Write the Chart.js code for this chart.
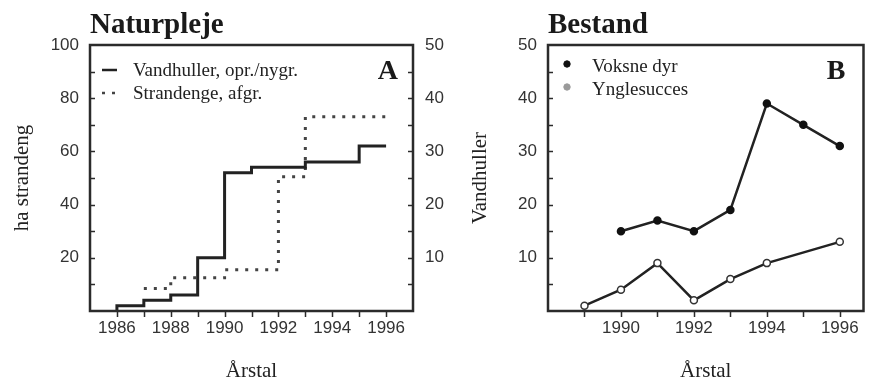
<!DOCTYPE html>
<html>
<head>
<meta charset="utf-8">
<script src="https://cdn.jsdelivr.net/npm/chart.js@4.4.1/dist/chart.umd.min.js"></script>
<style>
  html, body { margin: 0; padding: 0; background: #fff; overflow: hidden; }
  #wrap { position: relative; width: 870px; height: 384px; }
  canvas { position: absolute; top: 0; }
  #chartA { left: 0; }
  #chartB { left: 500px; }
</style>
</head>
<body>
<div id="wrap">
  <canvas id="chartA" width="500" height="384"></canvas>
  <canvas id="chartB" width="370" height="384"></canvas>
</div>
<script>
// Naturpleje: ponds dug/restored (count, right axis) and salt meadows grazed (ha, left axis)
const pondYears = [1986, 1986, 1987, 1988, 1989, 1990, 1991, 1993, 1995, 1996];
const pondCount = [0, 1, 2, 3, 10, 26, 27, 28, 31, 31];
const meadowYears = [1987, 1988, 1990, 1992, 1993, 1996];
const meadowHa = [8.5, 12.5, 15.5, 50.5, 73, 73];

// Bestand: adults and breeding success
const adultYears = [1990, 1991, 1992, 1993, 1994, 1995, 1996];
const adultCount = [15, 17, 15, 19, 39, 35, 31];
const breedYears = [1989, 1990, 1991, 1992, 1993, 1994, 1996];
const breedCount = [1, 4, 9, 2, 6, 9, 13];

// tick labels
const yearLabelsA = [1986, 1988, 1990, 1992, 1994, 1996];
const yearLabelsB = [1990, 1992, 1994, 1996];
const haLabels = [20, 40, 60, 80, 100];
const countLabels = [10, 20, 30, 40, 50];

const INK = '#2b2b2b';
const SERIF = '"Liberation Serif", "DejaVu Serif", serif';
const SANS = '"Liberation Sans", Arial, sans-serif';

Chart.defaults.font.family = SANS;
Chart.defaults.color = '#333';

function toPoints(xs, ys) {
  return xs.map((x, i) => ({ x: x, y: ys[i] }));
}

function onlyLabels(list) {
  return v => (list.includes(v) ? String(v) : '');
}

// frame, inward/outward tick marks, panel title, letter and legend
const panelPlugin = {
  id: 'panel',
  afterDraw(chart, args, opts) {
    const { ctx, chartArea: a } = chart;
    ctx.save();

    ctx.strokeStyle = INK;
    ctx.lineWidth = 1.5;
    Object.values(chart.scales).forEach(s => {
      s.ticks.forEach(t => {
        if (t.value <= s.min || t.value >= s.max) return;
        const p = Math.round(s.getPixelForValue(t.value)) + 0.5;
        ctx.beginPath();
        if (s.axis === 'x') {
          ctx.moveTo(p, a.bottom); ctx.lineTo(p, a.bottom + 6);
        } else if (s.position === 'left') {
          ctx.moveTo(a.left, p); ctx.lineTo(a.left + 5, p);
        } else {
          ctx.moveTo(a.right, p); ctx.lineTo(a.right - 5, p);
        }
        ctx.stroke();
      });
    });

    ctx.lineWidth = 2.5;
    ctx.strokeRect(a.left, a.top, a.right - a.left, a.bottom - a.top);

    ctx.fillStyle = '#1a1a1a';
    ctx.font = 'bold 29px ' + SERIF;
    ctx.textBaseline = 'alphabetic';
    ctx.textAlign = 'left';
    ctx.fillText(opts.title, a.left, a.top - 12);

    ctx.font = 'bold 28px ' + SERIF;
    ctx.textAlign = 'right';
    ctx.textBaseline = 'middle';
    ctx.fillText(opts.letter, a.right - opts.letterInset, a.top + 27);

    ctx.font = '19px ' + SERIF;
    ctx.textAlign = 'left';
    ctx.fillStyle = '#222';
    chart.data.datasets.forEach((ds, i) => {
      const y = a.top + opts.legendTop + i * 23;
      const x0 = a.left + opts.legendLeft;
      if (opts.legendType === 'line') {
        ctx.beginPath();
        ctx.setLineDash(ds.borderDash || []);
        ctx.lineWidth = 2.5;
        ctx.strokeStyle = ds.borderColor;
        ctx.moveTo(x0, y); ctx.lineTo(x0 + 15, y);
        ctx.stroke();
        ctx.setLineDash([]);
        ctx.fillText(ds.label, x0 + 31, y + 1);
      } else {
        ctx.beginPath();
        ctx.arc(x0 + 5, y - 2, 3.2, 0, Math.PI * 2);
        ctx.fillStyle = ds.legendFill;
        ctx.fill();
        ctx.lineWidth = 1;
        ctx.strokeStyle = ds.legendFill;
        ctx.stroke();
        ctx.fillStyle = '#222';
        ctx.fillText(ds.label, x0 + 30, y + 1);
      }
    });

    if (opts.sideTitle) {
      const s = chart.scales[opts.sideTitle.axis];
      ctx.save();
      ctx.translate(s.right - 20, (a.top + a.bottom) / 2);
      ctx.rotate(-Math.PI / 2);
      ctx.font = '21px ' + SERIF;
      ctx.textAlign = 'center';
      ctx.textBaseline = 'middle';
      ctx.fillStyle = '#222';
      ctx.fillText(opts.sideTitle.text, 0, 0);
      ctx.restore();
    }
    ctx.restore();
  }
};

const tickFont = { size: 17, family: SANS };
const axisTitleFont = { size: 21, family: SERIF };
const noGrid = { display: false, drawTicks: false };

new Chart(document.getElementById('chartA'), {
  type: 'line',
  data: {
    datasets: [
      {
        label: 'Vandhuller, opr./nygr.',
        data: toPoints(pondYears, pondCount),
        yAxisID: 'y1',
        stepped: true,
        borderColor: '#222',
        borderWidth: 3,
        pointRadius: 0,
        fill: false
      },
      {
        label: 'Strandenge, afgr.',
        data: toPoints(meadowYears, meadowHa),
        yAxisID: 'y',
        stepped: true,
        borderColor: '#444',
        borderWidth: 3,
        borderDash: [3, 7],
        borderCapStyle: 'butt',
        pointRadius: 0,
        fill: false
      }
    ]
  },
  options: {
    responsive: false,
    animation: false,
    layout: { padding: { top: 45, left: 0, right: 0, bottom: 0 } },
    plugins: {
      legend: { display: false },
      tooltip: { enabled: false },
      panel: {
        title: 'Naturpleje',
        letter: 'A',
        letterInset: 15,
        legendType: 'line',
        legendLeft: 12,
        legendTop: 25,
        sideTitle: { axis: 'y1', text: 'Vandhuller' }
      }
    },
    scales: {
      x: {
        type: 'linear',
        min: 1985,
        max: 1997,
        grid: noGrid,
        border: { display: false },
        ticks: { stepSize: 1, autoSkip: false, includeBounds: false, maxRotation: 0, padding: 7, font: tickFont, callback: onlyLabels(yearLabelsA) },
        title: { display: true, text: 'Årstal', font: axisTitleFont, color: '#222', padding: 0 },
        afterFit: s => { s.height = 73; }
      },
      y: {
        position: 'left',
        min: 0,
        max: 100,
        grid: noGrid,
        border: { display: false },
        ticks: { stepSize: 10, autoSkip: false, padding: 11, font: tickFont, callback: onlyLabels(haLabels) },
        title: { display: true, text: 'ha strandeng', font: axisTitleFont, color: '#222', padding: { top: 10 } },
        afterFit: s => { s.width = 90; }
      },
      y1: {
        position: 'right',
        min: 0,
        max: 50,
        grid: noGrid,
        border: { display: false },
        ticks: { stepSize: 5, autoSkip: false, padding: 12, font: tickFont, callback: onlyLabels(countLabels) },
        afterFit: s => { s.width = 87; }
      }
    }
  },
  plugins: [panelPlugin]
});

new Chart(document.getElementById('chartB'), {
  type: 'line',
  data: {
    datasets: [
      {
        label: 'Voksne dyr',
        data: toPoints(adultYears, adultCount),
        borderColor: '#222',
        borderWidth: 2.5,
        pointRadius: 3,
        pointBackgroundColor: '#111',
        pointBorderColor: '#111',
        legendFill: '#111',
        fill: false
      },
      {
        label: 'Ynglesucces',
        data: toPoints(breedYears, breedCount),
        borderColor: '#222',
        borderWidth: 2.5,
        pointRadius: 3.5,
        pointBackgroundColor: '#fff',
        pointBorderColor: '#333',
        pointBorderWidth: 1.5,
        legendFill: '#9a9a9a',
        fill: false
      }
    ]
  },
  options: {
    responsive: false,
    animation: false,
    layout: { padding: { top: 45, left: 0, right: 2, bottom: 0 } },
    plugins: {
      legend: { display: false },
      tooltip: { enabled: false },
      panel: {
        title: 'Bestand',
        letter: 'B',
        letterInset: 18,
        legendType: 'point',
        legendLeft: 14,
        legendTop: 21
      }
    },
    scales: {
      x: {
        type: 'linear',
        min: 1988,
        max: 1996.65,
        grid: noGrid,
        border: { display: false },
        ticks: { stepSize: 1, autoSkip: false, includeBounds: false, maxRotation: 0, padding: 7, font: tickFont, callback: onlyLabels(yearLabelsB) },
        title: { display: true, text: 'Årstal', font: axisTitleFont, color: '#222', padding: 0 },
        afterFit: s => { s.height = 73; }
      },
      y: {
        position: 'left',
        min: 0,
        max: 50,
        grid: noGrid,
        border: { display: false },
        ticks: { stepSize: 5, autoSkip: false, padding: 11, font: tickFont, callback: onlyLabels(countLabels) },
        afterFit: s => { s.width = 48; }
      }
    }
  },
  plugins: [panelPlugin]
});
</script>
</body>
</html>
